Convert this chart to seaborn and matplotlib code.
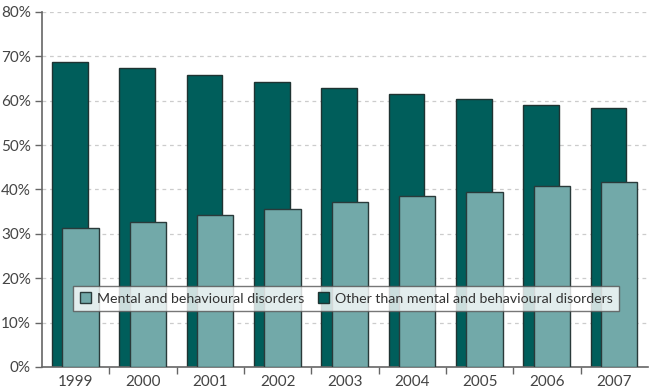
import matplotlib
matplotlib.use("Agg")
import matplotlib.pyplot as plt
import seaborn as sns
import numpy as np
import pandas as pd
from matplotlib.ticker import FixedLocator, PercentFormatter

years = [1999, 2000, 2001, 2002, 2003, 2004, 2005, 2006, 2007]
mental = [31.3, 32.7, 34.2, 35.7, 37.2, 38.5, 39.5, 40.9, 41.7]
other = [68.7, 67.3, 65.8, 64.3, 62.8, 61.5, 60.5, 59.1, 58.3]
labels = ["Mental and behavioural disorders", "Other than mental and behavioural disorders"]
colors = ["#72a9a9", "#005e5b"]

sns.set_theme(style="white")
plt.rcParams['font.family'] = ['Lato', 'DejaVu Sans']

fig = plt.figure(figsize=(6.5, 3.92), dpi=100)
ax = fig.add_axes([42/650, 1 - 367/392, 606/650, 355/392])

yrs = np.array(years, dtype=float)
df_o = pd.DataFrame({"x": yrs - 0.085, "y": other})
df_m = pd.DataFrame({"x": yrs + 0.07, "y": mental})

sns.barplot(data=df_o, x="x", y="y", native_scale=True, width=0.53,
            color=colors[1], saturation=1, edgecolor="#1f3332", linewidth=1.0,
            ax=ax, label=labels[1], zorder=2)
sns.barplot(data=df_m, x="x", y="y", native_scale=True, width=0.54,
            color=colors[0], saturation=1, edgecolor="#2a3a3a", linewidth=1.0,
            ax=ax, label=labels[0], zorder=3)

ax.set_xlim(years[0] - 0.5, years[-1] + 0.5)
ax.set_ylim(0, 80)
ax.set_xlabel("")
ax.set_ylabel("")

ax.xaxis.set_major_locator(FixedLocator([y + 0.5 for y in years[:-1]]))
ax.xaxis.set_minor_locator(FixedLocator(years))
ax.set_xticklabels([], minor=False)
ax.set_xticklabels([str(y) for y in years], minor=True)
ax.tick_params(axis="x", which="major", bottom=True, length=5, width=1, color="#666666")
ax.tick_params(axis="x", which="minor", bottom=True, length=0, labelsize=11,
               labelcolor="#444444", pad=6)

ax.set_yticks(np.arange(0, 81, 10))
ax.yaxis.set_major_formatter(PercentFormatter(decimals=0))
ax.tick_params(axis="y", left=True, length=5, width=1, color="#666666",
               labelsize=11, labelcolor="#444444", pad=3)

ax.grid(axis="y", color="#cccccc", linestyle=(0, (3, 3)), linewidth=0.9)
ax.set_axisbelow(True)

for s in ["top", "right"]:
    ax.spines[s].set_visible(False)
for s in ["left", "bottom"]:
    ax.spines[s].set_color("#666666")
    ax.spines[s].set_linewidth(1.2)

handles, lbls = ax.get_legend_handles_labels()
order = [lbls.index(labels[0]), lbls.index(labels[1])]
leg = ax.legend([handles[i] for i in order], [lbls[i] for i in order],
                loc="lower center", bbox_to_anchor=(0.502, 0.158), ncol=2,
                frameon=True, fancybox=False, edgecolor="#555555",
                fontsize=10.2, handlelength=0.8, handleheight=0.8,
                handletextpad=0.4, columnspacing=1.0, borderpad=0.45,
                borderaxespad=0.0)
leg.get_frame().set_linewidth(1.0)
for t in leg.get_texts():
    t.set_color("#333333")
leg.set_zorder(5)

fig.savefig("out.png", dpi=100)
